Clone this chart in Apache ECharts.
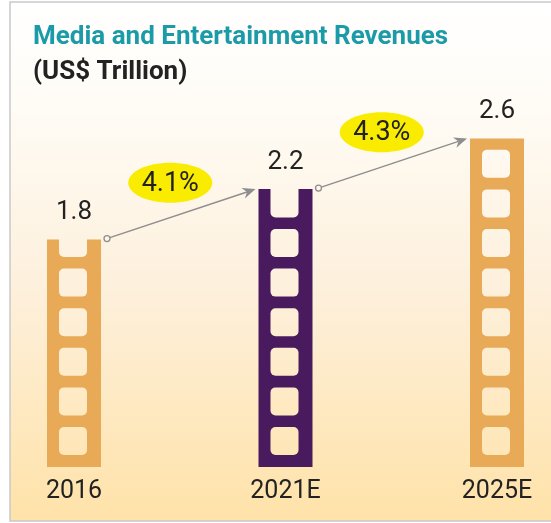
<!DOCTYPE html>
<html>
<head>
<meta charset="utf-8">
<title>Media and Entertainment Revenues</title>
<script src="https://cdn.jsdelivr.net/npm/echarts@6/dist/echarts.min.js"></script>
<style>
  html, body { margin: 0; padding: 0; background: #fff; }
  #chart { width: 551px; height: 523px; }
</style>
</head>
<body>
<div id="chart"></div>
<script>
// data
var years = ['2016', '2021E', '2025E'];
var revenue = [1.8, 2.2, 2.6];      // US$ trillion
var growth = [4.1, 4.3];            // % growth between neighbouring years
var barColors = ['#e9aa58', '#4a1a5e', '#e9aa58'];

var chart = echarts.init(document.getElementById('chart'));

// background gradient, reused for the film holes so they look cut out
var bgFill = new echarts.graphic.LinearGradient(0, 0, 0, 523, [
  { offset: 0, color: '#ffffff' },
  { offset: 0.2, color: '#fffcf6' },
  { offset: 0.55, color: '#fdf0dc' },
  { offset: 1, color: '#ffe2a8' }
], true);

var BAR_W = 54;
var HOLE = 28, HOLE_STEP = 39.6, HOLE_PAD = 12;

// film strip holes, stacked from the base and cut at the bar top
function renderHoles(params, api) {
  var i = api.value(0);
  var base = api.coord([i, 0]);
  var top = api.coord([i, api.value(1)]);
  var children = [];
  for (var k = 0; k < 20; k++) {
    var bottom = base[1] - HOLE_PAD - k * HOLE_STEP;
    var y0 = bottom - HOLE;
    if (bottom <= top[1] + 1) break;
    var notch = y0 < top[1] + 2;
    if (notch) y0 = top[1] - 1;
    children.push({
      type: 'rect',
      shape: { x: base[0] - HOLE / 2 - 1, y: y0, width: HOLE, height: bottom - y0, r: notch ? [0, 0, 5, 5] : 5 },
      style: { fill: bgFill }
    });
  }
  return { type: 'group', children: children };
}

// arrow from one bar top to the next, with the growth bubble
function renderArrow(params, api) {
  var i = api.value(0);
  var p1 = api.coord([i, revenue[i]]);
  var p2 = api.coord([i + 1, revenue[i + 1]]);
  var sx = p1[0] + BAR_W / 2 + 6, sy = p1[1] - 1;
  var ex = p2[0] - BAR_W / 2 - 3, ey = p2[1];
  var len = Math.sqrt((ex - sx) * (ex - sx) + (ey - sy) * (ey - sy));
  var ux = (ex - sx) / len, uy = (ey - sy) / len;
  var nx = -uy, ny = ux;
  var cx = (sx + ex) / 2 - 11, cy = (sy + ey) / 2 - 31;
  return {
    type: 'group',
    children: [
      { type: 'line', shape: { x1: sx + ux * 3, y1: sy + uy * 3, x2: ex - ux * 9, y2: ey - uy * 9 },
        style: { stroke: '#8e8e8e', lineWidth: 1.5 } },
      { type: 'polygon', shape: { points: [
          [ex, ey],
          [ex - ux * 13 + nx * 5.5, ey - uy * 13 + ny * 5.5],
          [ex - ux * 9, ey - uy * 9],
          [ex - ux * 13 - nx * 5.5, ey - uy * 13 - ny * 5.5]
        ] }, style: { fill: '#8e8e8e' } },
      { type: 'circle', shape: { cx: sx, cy: sy, r: 3 },
        style: { fill: '#fdf6ea', stroke: '#8e8e8e', lineWidth: 1.3 } },
      { type: 'ellipse', shape: { cx: cx, cy: cy, rx: 42, ry: 20 }, style: { fill: '#f9ec00' } },
      { type: 'text', style: { text: api.value(2).toFixed(1) + '%', x: cx, y: cy + 1,
          align: 'center', verticalAlign: 'middle', fontSize: 27, fontFamily: 'Roboto', fill: '#222' } }
    ]
  };
}

chart.setOption({
  animation: false,
  title: [
    { text: 'Media and Entertainment Revenues', left: 28, top: 19,
      textStyle: { fontSize: 26, fontWeight: 'bold', color: '#1a9ba7', fontFamily: 'Roboto' } },
    { text: '(US$ Trillion)', left: 28, top: 54,
      textStyle: { fontSize: 26, fontWeight: 'bold', color: '#222', fontFamily: 'Roboto' } }
  ],
  graphic: [
    { type: 'rect', z: -1, silent: true,
      shape: { x: 10, y: 2, width: 600, height: 519 },
      style: { fill: bgFill, stroke: '#c9c9c9', lineWidth: 1.5 } }
  ],
  grid: { left: 74, right: 54, top: 88, bottom: 56 },
  xAxis: {
    type: 'category',
    data: years,
    boundaryGap: false,
    axisLine: { show: false },
    axisTick: { show: false },
    axisLabel: { fontSize: 25, color: '#222', fontFamily: 'Roboto', margin: 12 }
  },
  yAxis: { type: 'value', min: 0, max: 3, show: false },
  series: [
    {
      type: 'bar',
      barWidth: BAR_W,
      clip: false,
      data: revenue.map(function (v, i) { return { value: v, itemStyle: { color: barColors[i] } }; }),
      label: { show: true, position: 'top', distance: 14, fontSize: 26, color: '#222', fontFamily: 'Roboto' }
    },
    {
      type: 'custom', z: 3, silent: true, clip: false,
      renderItem: renderHoles,
      data: revenue.map(function (v, i) { return [i, v]; })
    },
    {
      type: 'custom', z: 4, silent: true, clip: false,
      renderItem: renderArrow,
      data: growth.map(function (g, i) { return [i, revenue[i], g]; })
    }
  ]
});
</script>
</body>
</html>
